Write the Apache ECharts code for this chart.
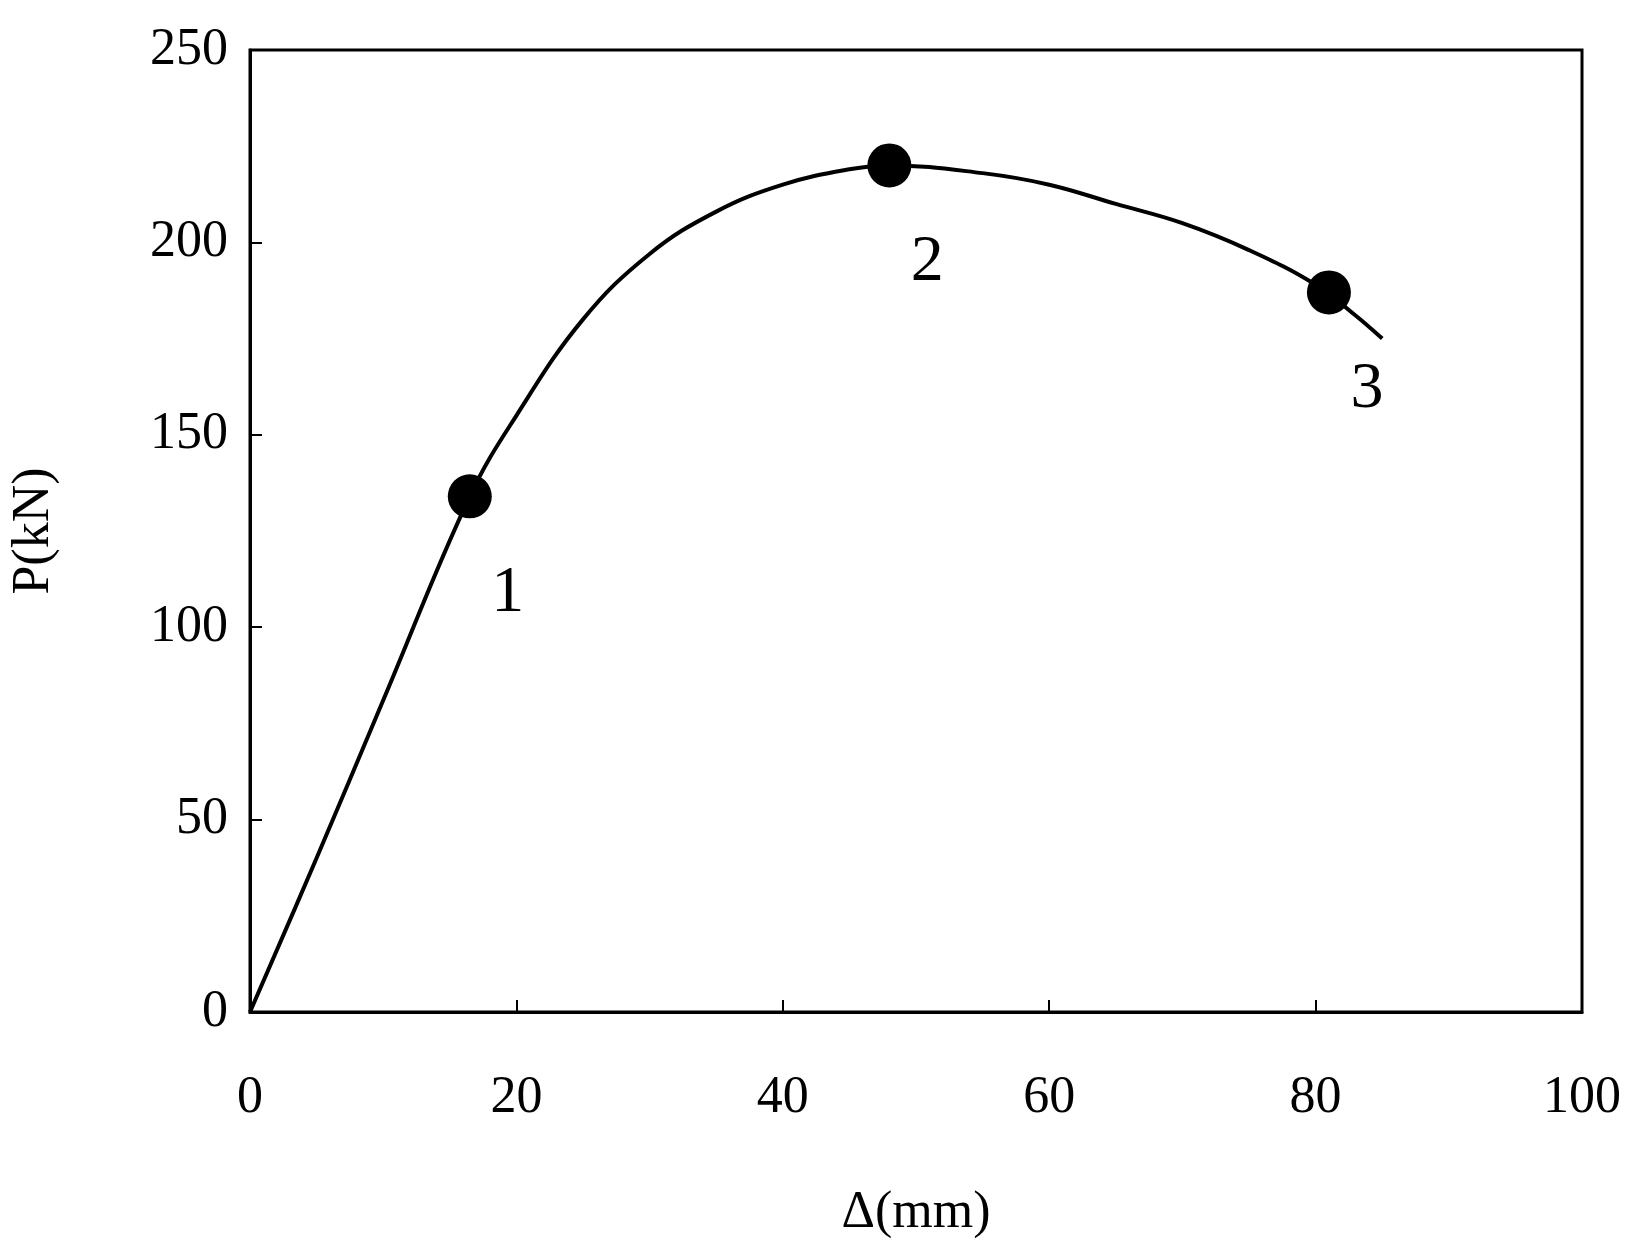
<!DOCTYPE html>
<html><head><meta charset="utf-8">
<script src="https://cdn.jsdelivr.net/npm/echarts@6/dist/echarts.min.js"></script>
<style>html,body{margin:0;padding:0;background:#fff}#c{width:1640px;height:1244px}</style>
</head><body><div id="c"></div>
<script>
const curveX = [0, 5, 10, 16.5, 20, 25, 30, 35, 40, 45, 48, 55, 60, 65, 70, 75, 80, 83, 85];
const curveY = [0, 40, 81, 134, 155, 180, 197, 208, 215, 219, 220, 218, 215, 210, 205, 198, 189, 181, 175];
const pointX = [16.5, 48, 81];
const pointY = [134, 220, 187];
const pointLabels = ['1', '2', '3'];
const font = 'Liberation Serif';
const chart = echarts.init(document.getElementById('c'));
chart.setOption({
  animation: false,
  grid: {left: 246, right: 58, top: 50, bottom: 230, show: true, borderColor: '#000', borderWidth: 3},
  xAxis: {type: 'value', min: 0, max: 100, interval: 20,
    name: 'Δ(mm)', nameLocation: 'middle', nameGap: 175,
    nameTextStyle: {fontFamily: font, fontSize: 52, color: '#000'},
    axisLine: {lineStyle: {color: '#000', width: 3}},
    axisTick: {inside: true, length: 12, lineStyle: {color: '#000', width: 2}},
    axisLabel: {fontFamily: font, fontSize: 52, color: '#000', margin: 60},
    splitLine: {show: false}},
  yAxis: {type: 'value', min: 0, max: 250, interval: 50,
    name: 'P(kN)', nameLocation: 'middle', nameGap: 190,
    nameTextStyle: {fontFamily: font, fontSize: 52, color: '#000'},
    axisLine: {lineStyle: {color: '#000', width: 3}},
    axisTick: {inside: true, length: 12, lineStyle: {color: '#000', width: 2}},
    axisLabel: {fontFamily: font, fontSize: 52, color: '#000', margin: 22},
    splitLine: {show: false}},
  series: [
    {type: 'line', smooth: 0.4, showSymbol: false,
     data: curveX.map((x, i) => [x, curveY[i]]),
     lineStyle: {color: '#000', width: 4}},
    {type: 'scatter', symbolSize: 44,
     data: pointX.map((x, i) => [x, pointY[i], pointLabels[i]]),
     itemStyle: {color: '#000', opacity: 1},
     label: {show: true, formatter: p => p.value[2], position: 'bottom', distance: 30, offset: [38, 12],
       fontFamily: font, fontSize: 66, color: '#000'}}
  ]
});
</script></body></html>
